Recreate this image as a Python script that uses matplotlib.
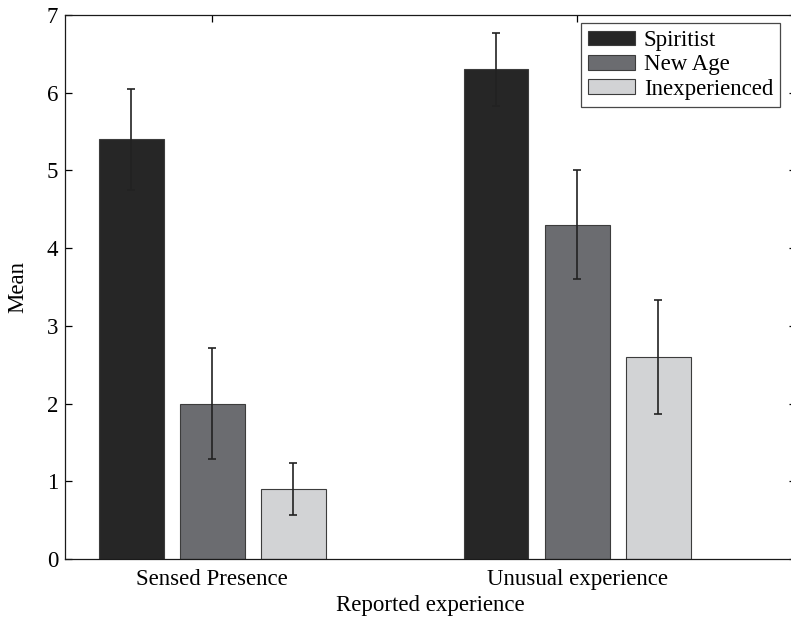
import matplotlib
matplotlib.use("Agg")
import matplotlib.pyplot as plt
import numpy as np

plt.rcParams['font.family'] = ['Liberation Serif', 'DejaVu Serif']

categories = ["Sensed Presence", "Unusual experience"]
groups = ["Spiritist", "New Age", "Inexperienced"]
means = {
    "Spiritist": [5.4, 6.3],
    "New Age": [2.0, 4.3],
    "Inexperienced": [0.9, 2.6],
}
errors = {
    "Spiritist": [0.65, 0.47],
    "New Age": [0.71, 0.70],
    "Inexperienced": [0.34, 0.73],
}
colors = {"Spiritist": "#262626", "New Age": "#6b6c70", "Inexperienced": "#d2d3d5"}

FS = 16.5

fig = plt.figure(figsize=(7.91, 6.17), dpi=100)
ax = fig.add_axes([65/791, 58/617, 731/791, 544/617])

x = np.arange(1, len(categories) + 1)
offset = 0.222
width = 0.178
for i, g in enumerate(groups):
    pos = x + (i - 1) * offset
    ax.bar(pos, means[g], width=width, color=colors[g], edgecolor="#3c3c3c",
           linewidth=0.8, label=g, zorder=2)
    ax.errorbar(pos, means[g], yerr=errors[g], fmt="none", ecolor="#222222",
                elinewidth=1.2, capsize=3, capthick=1.2, zorder=3)

ax.set_xlim(0.597, 2.6)
ax.set_ylim(0, 7)
ax.set_xticks(x)
ax.set_xticklabels(categories)
ax.set_yticks(range(0, 8))
ax.tick_params(direction="in", length=5, width=0.9, labelsize=FS,
               top=True, right=True, pad=5)
ax.tick_params(axis="x", pad=7)
for s in ax.spines.values():
    s.set_linewidth(0.9)
    s.set_color("#1a1a1a")

ax.set_xlabel("Reported experience", fontsize=FS, labelpad=4)
ax.set_ylabel("Mean", fontsize=FS, labelpad=13)

leg = ax.legend(loc="upper right", bbox_to_anchor=(715/731, 1 - 8/544),
                fontsize=FS, frameon=True, fancybox=False, edgecolor="#1a1a1a",
                handlelength=2.05, handleheight=0.6, handletextpad=0.4,
                borderpad=0.3, labelspacing=0.15, borderaxespad=0)
leg.get_frame().set_linewidth(0.9)

fig.savefig("out.png", dpi=100)
